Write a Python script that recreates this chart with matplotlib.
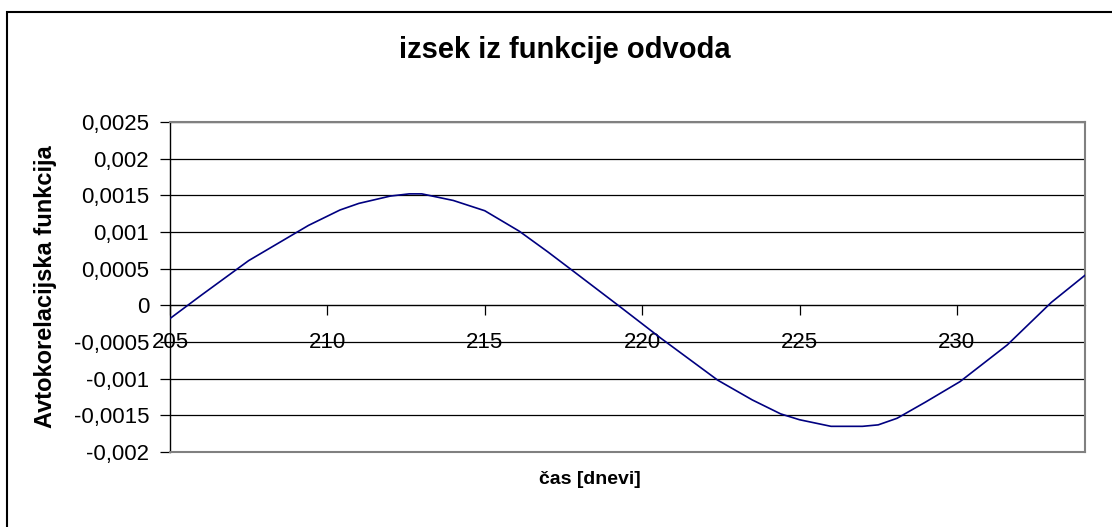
import matplotlib
matplotlib.use("Agg")
import matplotlib.pyplot as plt
from matplotlib.patches import Rectangle

# ---- data ----
days = [205, 206, 207.5, 209.4, 210.4, 211, 212, 212.6, 213, 214, 215, 216.1, 217,
        217.8, 219.3, 220.6, 222.4, 223.5, 224.4, 225, 226, 227, 227.5, 228.1, 229,
        230.1, 231.6, 233, 234.07]
values = [-0.00018, 0.00014, 0.00061, 0.00109, 0.00130, 0.00139, 0.00149, 0.00152,
          0.00152, 0.00143, 0.00129, 0.00101, 0.00073, 0.00047, -0.00002, -0.00045,
          -0.00102, -0.00129, -0.00148, -0.00156, -0.00165, -0.00165, -0.00163,
          -0.00154, -0.00132, -0.00104, -0.00054, 0.00004, 0.00041]
xticks = [205, 210, 215, 220, 225, 230]
xtick_labels = ["205", "210", "215", "220", "225", "230"]
yticks = [-0.002, -0.0015, -0.001, -0.0005, 0, 0.0005, 0.001, 0.0015, 0.002, 0.0025]
ytick_labels = ["-0,002", "-0,0015", "-0,001", "-0,0005", "0", "0,0005", "0,001",
                "0,0015", "0,002", "0,0025"]
title = "izsek iz funkcije odvoda"
xlabel = "čas [dnevi]"
ylabel = "Avtokorelacijska funkcija"

plt.rcParams['font.family'] = ['Liberation Sans', 'DejaVu Sans']

W, H = 1112, 527
fig = plt.figure(figsize=(W / 100, H / 100), dpi=100)
fig.patch.set_facecolor("white")

# outer chart border
fig.patches.append(Rectangle((7 / W, -0.05), 1.2, 1 - 11.5 / H + 0.05,
                             transform=fig.transFigure, fill=False,
                             edgecolor="black", linewidth=1.5))

ax = fig.add_axes([170 / W, 1 - 452 / H, (1085 - 170) / W, (452 - 122) / H])
ymin, ymax = -0.002, 0.0025
xmin, xmax = 205, 234.07
ax.set_xlim(xmin, xmax)
ax.set_ylim(ymin, ymax)

ax.plot(days, values, color="#000080", linewidth=1.2, zorder=3)

# grid
ax.set_yticks(yticks)
ax.set_yticklabels(ytick_labels, fontsize=16)
ax.yaxis.grid(True, color="black", linewidth=0.9)
ax.set_axisbelow(True)
ax.tick_params(axis="y", direction="out", length=7, width=0.9, pad=8, colors="black")

for s in ["top", "right", "bottom"]:
    ax.spines[s].set_color("#808080")
    ax.spines[s].set_linewidth(1.5)
ax.spines["left"].set_color("black")
ax.spines["left"].set_linewidth(1.0)

# x axis crossing at y=0
ax.set_xticks([])
loc = (0 - ymin) / (ymax - ymin)
sec = ax.secondary_xaxis(loc)
sec.set_xticks(xticks)
sec.set_xticklabels(xtick_labels, fontsize=16)
sec.tick_params(axis="x", direction="out", length=7, width=0.9, pad=12, colors="black")
sec.spines["bottom"].set_color("#555555")
sec.spines["bottom"].set_linewidth(0.9)

fig.text(565 / W, 1 - 50 / H, title, ha="center", va="center",
         fontsize=21, fontweight="bold")
fig.text(590 / W, 1 - 480 / H, xlabel, ha="center", va="center",
         fontsize=14, fontweight="bold")
fig.text(46 / W, 1 - 287 / H, ylabel, ha="center", va="center", rotation=90,
         fontsize=17, fontweight="bold")

fig.savefig("out.png", dpi=100, facecolor="white")
